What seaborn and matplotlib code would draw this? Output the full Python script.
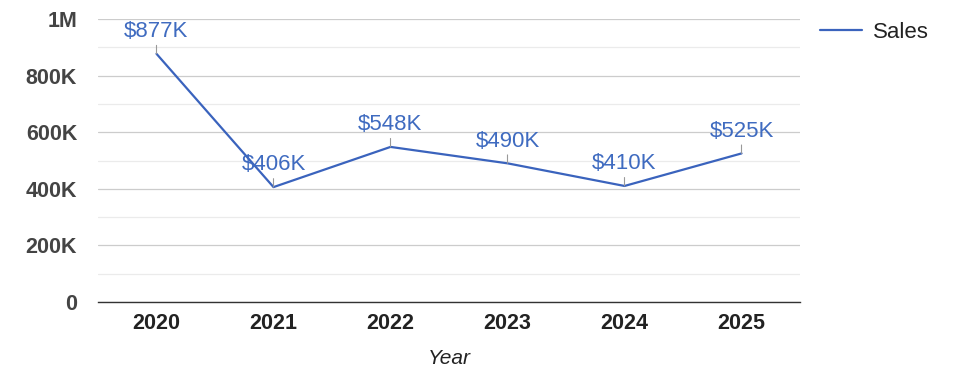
import matplotlib
matplotlib.use("Agg")
import matplotlib.pyplot as plt
import matplotlib.ticker as mticker
import seaborn as sns
import pandas as pd

years = ["2020", "2021", "2022", "2023", "2024", "2025"]
sales = [877000, 406000, 548000, 490000, 410000, 525000]
labels = ["$877K", "$406K", "$548K", "$490K", "$410K", "$525K"]
y_ticks = [0, 200000, 400000, 600000, 800000, 1000000]
y_tick_labels = ["0", "200K", "400K", "600K", "800K", "1M"]

LINE = "#3a63bd"

sns.set_theme(style="white")
plt.rcParams["font.family"] = ["Liberation Sans", "DejaVu Sans"]

df = pd.DataFrame({"Year": years, "Sales": sales})

fig = plt.figure(figsize=(9.75, 3.78), dpi=100)
ax = fig.add_axes([98 / 975, 76 / 378, 702 / 975, 283 / 378])

sns.lineplot(data=df, x="Year", y="Sales", ax=ax, color=LINE, linewidth=1.6,
             sort=False, label="Sales")

ax.set_xlim(-0.5, len(years) - 0.5)
ax.set_ylim(0, 1000000)
ax.set_yticks(y_ticks)
ax.set_yticklabels(y_tick_labels)
ax.yaxis.set_minor_locator(mticker.MultipleLocator(100000))

ax.grid(axis="y", which="major", color="#cccccc", linewidth=0.9)
ax.grid(axis="y", which="minor", color="#ebebeb", linewidth=0.9)
ax.grid(axis="x", visible=False)
ax.set_axisbelow(True)

for s in ["top", "right", "left"]:
    ax.spines[s].set_visible(False)
ax.spines["bottom"].set_color("#333333")
ax.spines["bottom"].set_linewidth(1.0)

ax.tick_params(axis="y", which="both", length=0, pad=15, labelsize=15.5, labelcolor="#444444")
ax.tick_params(axis="x", length=0, pad=8, labelsize=15.5, labelcolor="#222222")
for t in ax.get_yticklabels() + ax.get_xticklabels():
    t.set_fontweight("bold")

ax.set_ylabel("")
ax.set_xlabel("Year", fontsize=15, fontstyle="italic", color="#222222", labelpad=11)

# value labels with a short grey leader stroke down to the point
for i, (v, lab) in enumerate(zip(sales, labels)):
    ax.annotate(lab, xy=(i, v), xytext=(0, 16), textcoords="offset points",
                ha="center", va="center", fontsize=16, color="#3f6bc0",
                arrowprops=dict(arrowstyle="-", color="#999999", lw=0.8,
                                shrinkA=0, shrinkB=0))

ax.legend(loc="upper left", bbox_to_anchor=(1.0, 1.06), frameon=False,
          fontsize=16, handlelength=1.9, handletextpad=0.5, labelcolor="#222222")

fig.savefig("out.png", dpi=100)
